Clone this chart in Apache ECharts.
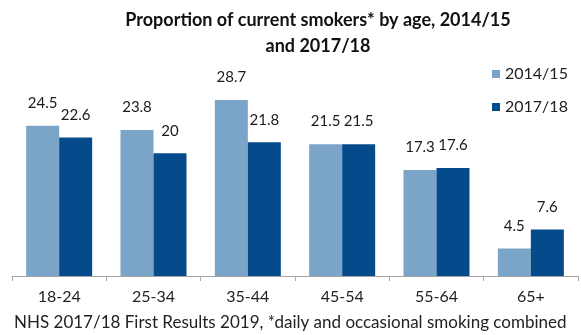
<!DOCTYPE html>
<html>
<head>
<meta charset="utf-8">
<script src="https://cdn.jsdelivr.net/npm/echarts@6/dist/echarts.min.js"></script>
<style>
  html, body { margin: 0; padding: 0; background: #fff; }
  #main { width: 581px; height: 335px; }
</style>
</head>
<body>
<div id="main"></div>
<script>
// data
var ages = ['18-24', '25-34', '35-44', '45-54', '55-64', '65+'];
var seriesNames = ['2014/15', '2017/18'];
var smokers1415 = [24.5, 23.8, 28.7, 21.5, 17.3, 4.5];
var smokers1718 = [22.6, 20, 21.8, 21.5, 17.6, 7.6];

var fontFam = 'Lato, "Open Sans", sans-serif';
var lightBlue = '#7ba4c9';
var darkBlue = '#054a8b';

var myChart = echarts.init(document.getElementById('main'), null, { renderer: 'canvas' });

function barLabel() {
  return {
    show: true,
    position: 'top',
    distance: 15,
    color: '#1a1a1a',
    fontSize: 15,
    fontFamily: fontFam
  };
}

var option = {
  backgroundColor: '#ffffff',
  animation: false,
  title: {
    text: 'Proportion of current smokers* by age, 2014/15\nand 2017/18',
    left: 313,
    top: 2,
    textAlign: 'center',
    textStyle: {
      fontSize: 18,
      fontWeight: 'bold',
      color: '#111',
      fontFamily: fontFam,
      lineHeight: 26
    }
  },
  legend: {
    orient: 'vertical',
    left: 487,
    top: 61,
    icon: 'rect',
    itemWidth: 8,
    itemHeight: 8,
    itemGap: 17,
    data: seriesNames,
    textStyle: { fontSize: 16, color: '#222', fontFamily: fontFam }
  },
  grid: { left: 12, right: 3, top: 92, bottom: 59, containLabel: false },
  xAxis: {
    type: 'category',
    data: ages,
    axisLine: { lineStyle: { color: '#a6a6a6', width: 1 } },
    axisTick: { show: true, length: 5, lineStyle: { color: '#a6a6a6' } },
    axisLabel: { fontSize: 16, color: '#222', fontFamily: fontFam, margin: 13 }
  },
  yAxis: {
    type: 'value',
    min: 0,
    max: 30,
    show: false,
    splitLine: { show: false }
  },
  series: [
    {
      name: seriesNames[0],
      type: 'bar',
      data: smokers1415,
      barWidth: 33,
      barGap: '0%',
      itemStyle: { color: lightBlue },
      label: barLabel()
    },
    {
      name: seriesNames[1],
      type: 'bar',
      data: smokers1718,
      barWidth: 33,
      barGap: '0%',
      itemStyle: { color: darkBlue },
      label: barLabel()
    }
  ],
  graphic: [{
    type: 'text',
    left: 14,
    top: 314,
    style: {
      text: 'NHS 2017/18 First Results 2019, *daily and occasional smoking combined',
      fontSize: 17,
      fill: '#222',
      fontFamily: fontFam
    }
  }]
};

myChart.setOption(option);
</script>
</body>
</html>
